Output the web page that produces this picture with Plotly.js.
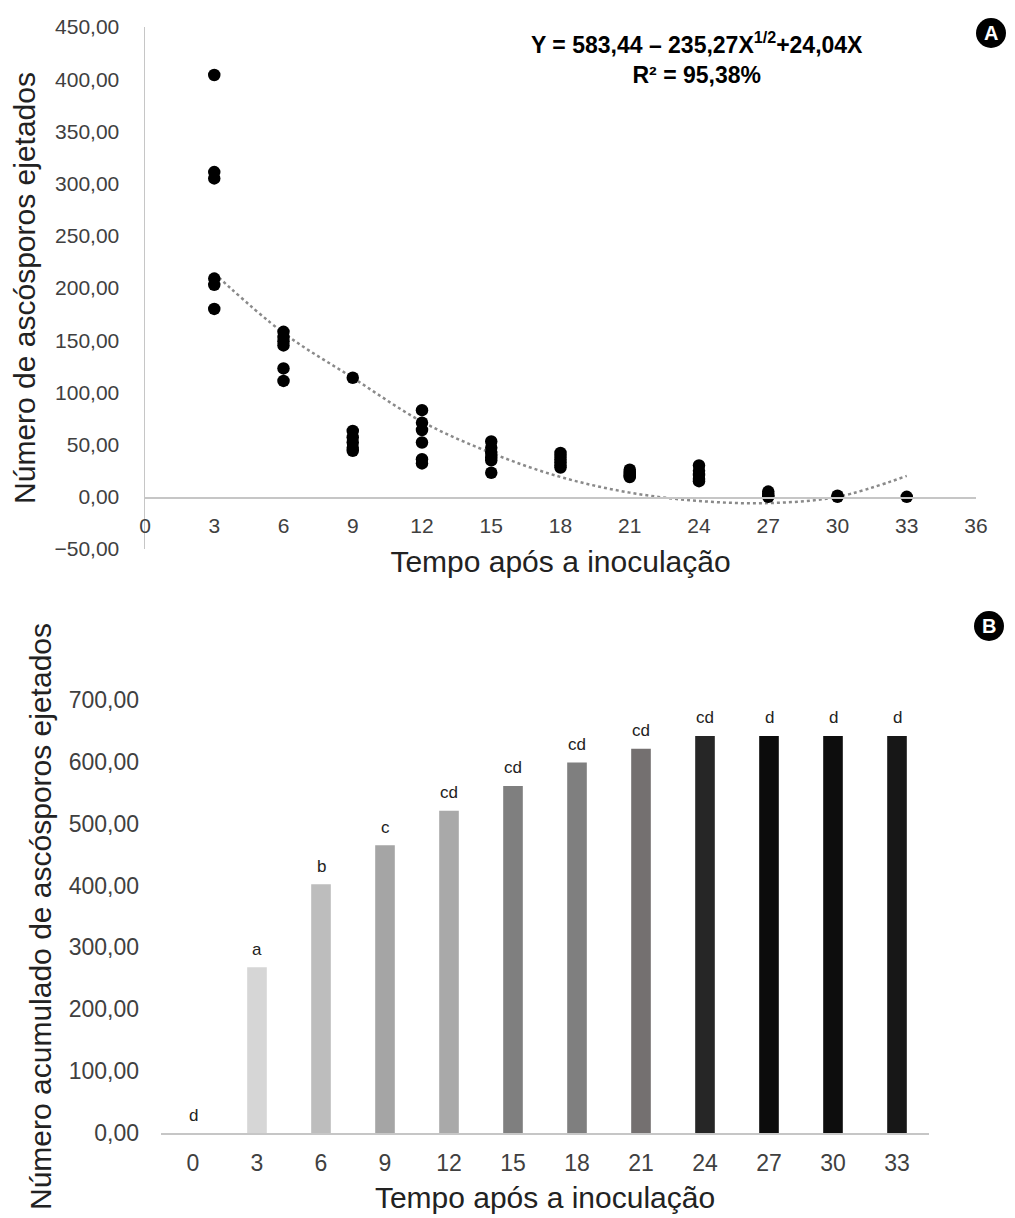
<!DOCTYPE html>
<html>
<head>
<meta charset="utf-8">
<script src="https://cdn.plot.ly/plotly-3.0.1.min.js"></script>
<style>
  html, body { margin: 0; padding: 0; background: #ffffff; }
  #chart { width: 1015px; height: 1218px; }
</style>
</head>
<body>
<div id="chart"></div>
<script>
// ---------- Panel A data ----------
const scatterTime = [
  3, 3, 3, 3, 3, 3,
  6, 6, 6, 6, 6, 6,
  9, 9, 9, 9, 9, 9,
  12, 12, 12, 12, 12, 12,
  15, 15, 15, 15, 15, 15,
  18, 18, 18, 18, 18, 18,
  21, 21, 21, 21, 21,
  24, 24, 24, 24, 24,
  27, 27, 27, 27,
  30, 30,
  33
];
const scatterValue = [
  404, 311, 305, 209, 203, 180,
  158, 153, 149, 145, 123, 111,
  114, 63, 57, 52, 47, 44,
  83, 71, 64, 52, 36, 32,
  53, 47, 42, 38, 35, 23,
  42, 39, 36, 33, 30, 28,
  26, 24, 22, 20, 19,
  30, 25, 21, 17, 15,
  5, 3, 1, 0,
  1, 0,
  0
];
const trendTime  = [3, 6, 9, 12, 15, 18, 21, 24, 27, 30, 33];
const trendValue = [214, 157, 114, 72, 42, 19, 4, -4, -6, 0, 20];
const equationText = "<b>Y = 583,44 \u2013 235,27X<sup>1/2</sup>+24,04X<br>R\u00b2 = 95,38%</b>";

// ---------- Panel B data ----------
const barTime   = [0, 3, 6, 9, 12, 15, 18, 21, 24, 27, 30, 33];
const barValue  = [0, 268, 402, 465, 521, 561, 599, 621, 642, 642, 642, 642];
const barLetter = ["d", "a", "b", "c", "cd", "cd", "cd", "cd", "cd", "d", "d", "d"];
const barColor  = ["#d6d6d6", "#d6d6d6", "#bdbdbd", "#a5a5a5", "#a9a9a9", "#7f7f7f",
                   "#7f7f7f", "#747070", "#262626", "#0c0c0c", "#0d0d0d", "#171717"];

const FONT = "Liberation Sans, Arial, sans-serif";
const TXT = "#404040";
const TTL = "#222222";
const AXC = "#c6c6c6";

const traces = [
  {
    type: "scatter", mode: "lines",
    x: trendTime, y: trendValue,
    line: { color: "#8a8a8a", width: 2.5, dash: "dot", shape: "spline", smoothing: 1 },
    xaxis: "x", yaxis: "y", hoverinfo: "skip", showlegend: false
  },
  {
    type: "scatter", mode: "markers",
    x: scatterTime, y: scatterValue,
    marker: { color: "#000000", size: 12.5 },
    xaxis: "x", yaxis: "y", showlegend: false
  },
  {
    type: "bar",
    x: barTime, y: barValue,
    marker: { color: barColor, line: { width: 0 } },
    width: 0.92,
    xaxis: "x2", yaxis: "y2", showlegend: false
  }
];

const annotations = barTime.map((t, i) => ({
  xref: "x2", yref: "y2", x: t, y: barValue[i],
  text: barLetter[i], showarrow: false,
  yanchor: "middle", yshift: 18,
  font: { family: FONT, size: 17, color: "#222222" }
}));

annotations.push({
  xref: "paper", yref: "paper", x: 697 / 1015, y: 1 - 58 / 1218,
  text: equationText, showarrow: false, align: "center",
  xanchor: "center", yanchor: "middle",
  font: { family: FONT, size: 23, color: "#000000" }
});
annotations.push({
  xref: "paper", yref: "paper", x: 991 / 1015, y: 1 - 33 / 1218,
  text: "<b>A</b>", showarrow: false, xanchor: "center", yanchor: "middle",
  font: { family: FONT, size: 20, color: "#ffffff" }
});
annotations.push({
  xref: "paper", yref: "paper", x: 989 / 1015, y: 1 - 626 / 1218,
  text: "<b>B</b>", showarrow: false, xanchor: "center", yanchor: "middle",
  font: { family: FONT, size: 20, color: "#ffffff" }
});

const shapes = [
  { type: "circle", xref: "paper", yref: "paper",
    x0: 976 / 1015, x1: 1006 / 1015, y0: 1 - 48 / 1218, y1: 1 - 18 / 1218,
    fillcolor: "#000000", line: { width: 0 }, layer: "below" },
  { type: "circle", xref: "paper", yref: "paper",
    x0: 974 / 1015, x1: 1004 / 1015, y0: 1 - 641 / 1218, y1: 1 - 611 / 1218,
    fillcolor: "#000000", line: { width: 0 }, layer: "below" }
];

const layout = {
  width: 1015, height: 1218,
  margin: { l: 0, r: 0, t: 0, b: 0 },
  paper_bgcolor: "#ffffff", plot_bgcolor: "rgba(0,0,0,0)",
  separators: ",.",
  font: { family: FONT, color: TXT },
  showlegend: false,
  xaxis: {
    domain: [145 / 1015, 976 / 1015],
    anchor: "free", position: 1 - 497 / 1218,
    range: [0, 36], tick0: 0, dtick: 3,
    showgrid: false, zeroline: false,
    showline: true, linecolor: AXC, linewidth: 1.5,
    ticks: "", ticklabelstandoff: 9,
    tickfont: { family: FONT, size: 21, color: TXT },
    title: { text: "Tempo após a inoculação", font: { family: FONT, size: 30, color: TTL }, standoff: 15 }
  },
  yaxis: {
    domain: [1 - 549 / 1218, 1 - 27 / 1218],
    anchor: "x",
    range: [-50, 450], dtick: 50, tick0: 0,
    tickformat: ".2f",
    showgrid: false, zeroline: false,
    showline: true, linecolor: AXC, linewidth: 1.5,
    ticks: "", ticklabelstandoff: 20,
    tickfont: { family: FONT, size: 21, color: TXT },
    title: { text: "Número de ascósporos ejetados", font: { family: FONT, size: 30, color: TTL }, standoff: 10 }
  },
  xaxis2: {
    domain: [161 / 1015, 929 / 1015],
    anchor: "y2",
    range: [-1.5, 34.5],
    tickmode: "array", tickvals: barTime, ticktext: barTime.map(String),
    showgrid: false, zeroline: false,
    showline: true, linecolor: AXC, linewidth: 1.5,
    ticks: "", ticklabelstandoff: 9,
    tickfont: { family: FONT, size: 23, color: TXT },
    title: { text: "Tempo após a inoculação", font: { family: FONT, size: 30, color: TTL }, standoff: 12 }
  },
  yaxis2: {
    domain: [1 - 1133 / 1218, 1 - 700 / 1218],
    anchor: "x2",
    range: [0, 700], dtick: 100, tick0: 0,
    tickformat: ".2f",
    showgrid: false, zeroline: false, showline: false,
    ticks: "", ticklabelstandoff: 21,
    tickfont: { family: FONT, size: 23, color: TXT },
    title: { text: "Número acumulado de ascósporos ejetados", font: { family: FONT, size: 30, color: TTL }, standoff: 8 }
  },
  annotations: annotations,
  shapes: shapes
};

Plotly.newPlot("chart", traces, layout, { displayModeBar: false, staticPlot: true });
</script>
</body>
</html>
